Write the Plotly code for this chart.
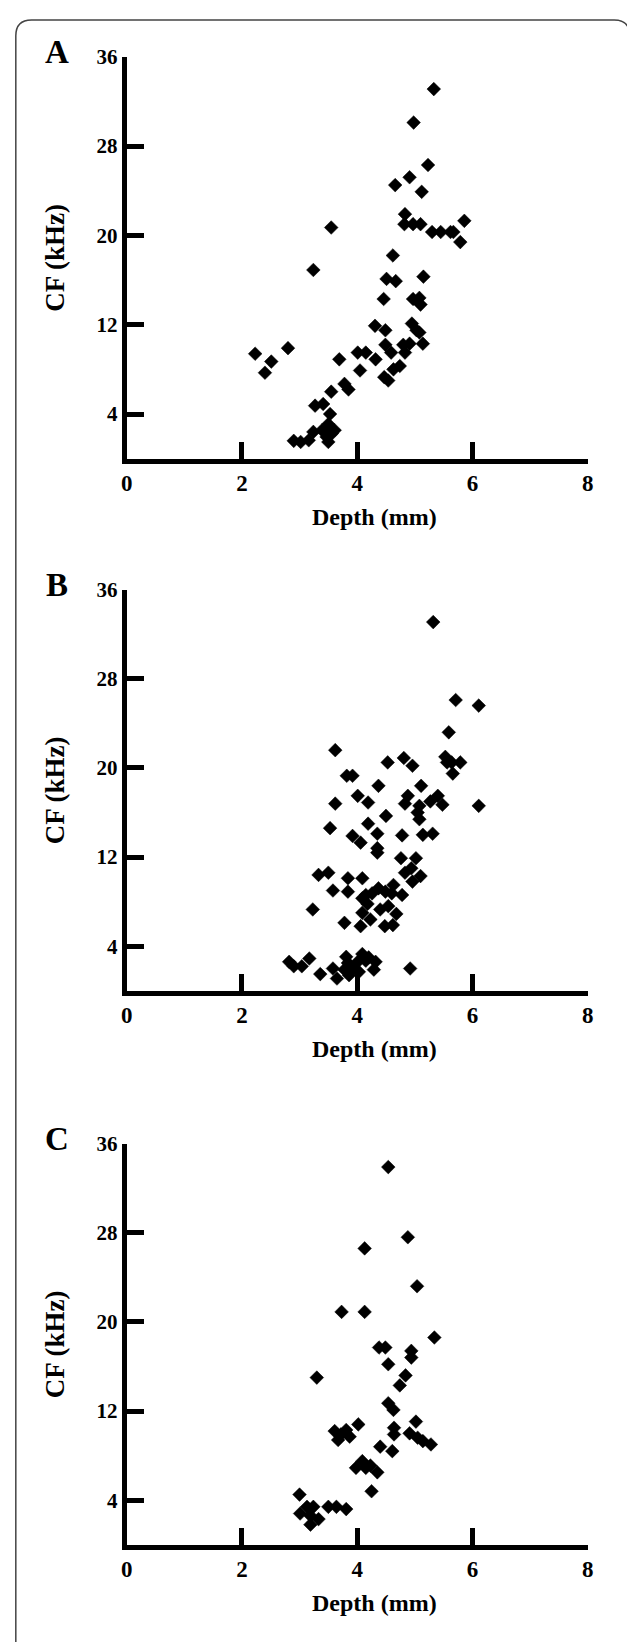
import plotly.graph_objects as go

# ---------------- data ----------------
xa = [5.33, 4.98, 5.23, 4.91, 4.66, 5.12, 4.83, 5.86, 4.82, 4.97, 5.10, 3.55, 5.30, 5.45, 5.62, 5.67,
      5.79, 4.62, 3.24, 5.15, 4.51, 4.67, 4.46, 4.97, 5.08, 5.10, 4.95, 5.03, 5.08, 4.31, 4.49, 4.49,
      4.59, 4.80, 4.91, 5.14, 4.83, 2.23, 2.80, 2.51, 2.40, 3.69, 4.01, 4.15, 4.32, 4.05, 4.47, 4.54,
      4.63, 4.74, 3.78, 3.85, 3.55, 3.27, 3.41, 3.53, 3.50, 3.24, 3.39, 3.56, 3.61, 3.47, 3.50, 2.90,
      3.02, 3.16]
ya = [33.1, 30.1, 26.3, 25.2, 24.5, 23.9, 21.9, 21.3, 21.0, 21.0, 21.0, 20.7, 20.3, 20.3, 20.3, 20.3,
      19.4, 18.2, 16.9, 16.3, 16.1, 15.9, 14.3, 14.3, 14.4, 13.8, 12.1, 11.5, 11.3, 11.9, 11.5, 10.2,
      9.5, 10.2, 10.3, 10.3, 9.5, 9.4, 9.9, 8.7, 7.7, 8.9, 9.5, 9.5, 8.9, 7.9, 7.3, 7.0,
      8.0, 8.3, 6.7, 6.2, 6.0, 4.75, 4.9, 4.0, 3.1, 2.4, 2.55, 2.25, 2.55, 1.95, 1.5, 1.6,
      1.5, 1.65]

xb = [5.32, 5.71, 6.11, 5.59, 3.62, 5.53, 5.56, 5.64, 5.79, 5.66, 4.53, 4.81, 4.96, 3.82, 3.92, 4.37,
      5.11, 4.88, 4.83, 4.01, 4.19, 3.62, 5.40, 5.48, 5.27, 5.08, 5.05, 5.08, 6.11, 4.50, 4.19, 3.53,
      4.35, 4.78, 5.14, 5.31, 3.92, 4.06, 4.35, 4.35, 4.76, 5.02, 4.94, 4.83, 5.10, 3.33, 3.50, 3.84,
      4.09, 4.96, 4.63, 3.58, 3.84, 4.37, 4.49, 4.60, 4.78, 4.15, 4.09, 4.26, 4.18, 4.40, 4.54, 4.68,
      3.23, 4.09, 4.23, 3.78, 4.06, 4.48, 4.62,
      2.82, 2.90, 3.04, 3.17, 3.36, 3.58, 3.65, 3.81, 3.84, 3.78, 3.92, 4.01, 4.09, 4.15, 4.20, 4.32,
      4.29, 4.03, 3.86, 4.92]
yb = [33.1, 26.1, 25.6, 23.2, 21.6, 21.0, 20.5, 20.5, 20.5, 19.5, 20.5, 20.9, 20.2, 19.3, 19.3, 18.4,
      18.4, 17.5, 16.8, 17.5, 16.9, 16.8, 17.5, 16.7, 17.0, 16.6, 16.0, 15.4, 16.6, 15.7, 15.0, 14.6,
      14.1, 13.95, 14.0, 14.1, 13.9, 13.3, 12.8, 12.4, 11.9, 11.9, 11.0, 10.6, 10.3, 10.4, 10.6, 10.1,
      10.1, 9.8, 9.5, 9.0, 8.9, 9.2, 8.9, 8.75, 8.6, 8.6, 8.3, 8.75, 7.8, 7.3, 7.6, 6.9,
      7.3, 7.0, 6.4, 6.1, 5.8, 5.8, 5.9,
      2.6, 2.2, 2.2, 2.9, 1.5, 2.0, 1.1, 3.05, 2.5, 1.9, 2.0, 2.6, 3.3, 2.7, 3.0, 2.6,
      1.9, 1.7, 1.4, 2.0]

xc = [4.54, 4.88, 4.13, 5.04, 3.73, 4.13, 5.34, 4.38, 4.49, 4.94, 4.94, 4.54, 3.30, 4.84, 4.74, 4.54,
      4.63,
      5.02, 4.02, 3.61, 3.67, 3.81, 3.87, 3.72, 4.64, 4.64, 4.91, 5.05, 5.14, 5.28, 4.40, 4.61, 4.09,
      4.15, 4.23, 4.35, 3.98, 4.25, 3.00, 3.13, 3.24, 3.01, 3.19, 3.33, 3.19, 3.50, 3.64, 3.81]
yc = [33.9, 27.6, 26.6, 23.2, 20.9, 20.9, 18.6, 17.7, 17.7, 17.4, 16.8, 16.2, 15.0, 15.2, 14.3, 12.7,
      12.1,
      11.05, 10.8, 10.2, 9.4, 10.3, 9.7, 9.9, 10.5, 9.9, 10.0, 9.6, 9.3, 9.0, 8.8, 8.4, 7.5,
      6.9, 7.1, 6.5, 6.9, 4.8, 4.5, 3.4, 3.4, 2.8, 2.6, 2.3, 1.8, 3.4, 3.4, 3.2]

panel_labels = ["A", "B", "C"]
x_ticks = [0, 2, 4, 6, 8]
y_ticks = [4, 12, 20, 28, 36]
x_title = "Depth (mm)"
y_title = "CF (kHz)"

# ---------------- layout geometry (pixels) ----------------
W, H = 627, 1642
X0_PX, X8_PX = 123, 593
panels_px = [(45, 450), (582, 986), (1140, 1544)]  # (y=36 px, y=0 px)


def px(xp):
    return xp / W


def py(yp):
    return 1 - yp / H


FONT = "Liberation Serif"
fig = go.Figure()

datasets = [(xa, ya), (xb, yb), (xc, yc)]
for i, (xs, ys) in enumerate(datasets):
    sfx = "" if i == 0 else str(i + 1)
    fig.add_trace(go.Scatter(
        x=xs, y=ys, mode="markers",
        marker=dict(symbol="diamond", size=10.5, color="black", line=dict(width=0.5, color="black")),
        xaxis="x" + sfx, yaxis="y" + sfx, showlegend=False, hoverinfo="skip"))

layout = dict(width=W, height=H, margin=dict(l=0, r=0, t=0, b=0),
              paper_bgcolor="white", plot_bgcolor="white", showlegend=False)

annotations = []
for i, (ytop, ybot) in enumerate(panels_px):
    sfx = "" if i == 0 else str(i + 1)
    layout["xaxis" + sfx] = dict(
        domain=[px(X0_PX), px(X8_PX)], range=[0, 8], anchor="y" + sfx,
        tickvals=x_ticks, ticktext=[str(v) for v in x_ticks],
        showline=True, linecolor="black", linewidth=5, mirror=False,
        ticks="inside", ticklen=17, tickwidth=5, tickcolor="black",
        showgrid=False, zeroline=False, fixedrange=True,
        tickfont=dict(family=FONT, size=23, color="black", weight="bold"))
    layout["yaxis" + sfx] = dict(
        domain=[py(ybot), py(ytop)], range=[0, 36], anchor="x" + sfx,
        tickvals=y_ticks, ticktext=[str(v) for v in y_ticks],
        showline=True, linecolor="black", linewidth=5,
        ticks="inside", ticklen=17, tickwidth=5, tickcolor="black",
        showgrid=False, zeroline=False, fixedrange=True,
        tickfont=dict(family=FONT, size=21, color="black", weight="bold"))
    # panel letter
    annotations.append(dict(text=panel_labels[i], x=px(52), y=py(ytop - 5), xref="paper", yref="paper",
                            showarrow=False, xanchor="center", yanchor="middle",
                            font=dict(family=FONT, size=33, color="black", weight="bold")))
    # y title
    annotations.append(dict(text=y_title, x=px(50), y=py((ytop + ybot) / 2), xref="paper", yref="paper",
                            showarrow=False, textangle=-90, xanchor="center", yanchor="middle",
                            font=dict(family=FONT, size=27, color="black", weight="bold")))
    # x title
    annotations.append(dict(text=x_title, x=px(376), y=py(ybot + 59), xref="paper", yref="paper",
                            showarrow=False, xanchor="center", yanchor="middle",
                            font=dict(family=FONT, size=24, color="black", weight="bold")))

layout["annotations"] = annotations

# rounded outer border
bx0, by0, bx1, by1, r = 10, 8, 636, 1660, 16
path = (f"M {px(bx0)},{py(by1)} L {px(bx0)},{py(by0 + r)} "
        f"Q {px(bx0)},{py(by0)} {px(bx0 + r)},{py(by0)} "
        f"L {px(bx1 - r)},{py(by0)} Q {px(bx1)},{py(by0)} {px(bx1)},{py(by0 + r)} "
        f"L {px(bx1)},{py(by1)}")
layout["shapes"] = [dict(type="path", path=path, xref="paper", yref="paper",
                         line=dict(color="#444444", width=1.5))]

fig.update_layout(**layout)
fig.write_html("out.html", config={"displayModeBar": False, "staticPlot": True},
               post_script="document.body.style.margin='0';document.body.style.padding='0';"
                           "document.body.style.overflow='hidden';")
